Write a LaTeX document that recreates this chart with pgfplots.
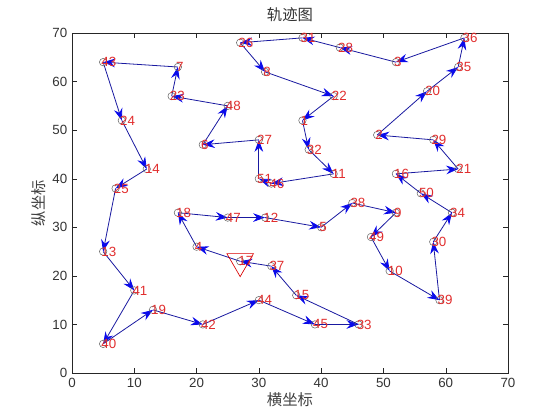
\documentclass[border=0pt]{standalone}
\usepackage{pgfplots}
\pgfplotsset{compat=1.18}
\usepackage{pgfplotstable}
\usepackage{fontspec}
\setmainfont{Liberation Sans}
\newfontfamily\cjk{Noto Sans CJK SC}
\usetikzlibrary{arrows.meta}
\definecolor{lblred}{RGB}{225,45,45}
\definecolor{arrblue}{RGB}{10,10,235}
\definecolor{lineblue}{RGB}{25,25,160}

\pgfplotstableread{
id x y xn yn
43 5 64 8 52
24 8 52 12 42
14 12 42 7 38
25 7 38 5 25
13 5 25 10 17
41 10 17 5 6
40 5 6 13 13
19 13 13 21 10
42 21 10 30 15
44 30 15 39 10
45 39 10 46 10
33 46 10 36 16
15 36 16 32 22
37 32 22 27 23
17 27 23 20 26
4 20 26 17 33
18 17 33 25 32
47 25 32 31 32
12 31 32 40 30
5 40 30 45 35
38 45 35 52 33
9 52 33 48 28
49 48 28 51 21
10 51 21 59 15
39 59 15 58 27
30 58 27 61 33
34 61 33 56 37
50 56 37 52 41
16 52 41 62 42
21 62 42 58 48
29 58 48 49 49
2 49 49 57 58
20 57 58 62 63
35 62 63 63 69
36 63 69 52 64
3 52 64 43 67
28 43 67 37 69
31 37 69 27 68
26 27 68 31 62
8 31 62 42 57
22 42 57 37 52
1 37 52 38 46
32 38 46 42 41
11 42 41 32 39
46 32 39 30 40
51 30 40 30 48
27 30 48 21 47
6 21 47 25 55
48 25 55 16 57
23 16 57 17 63
7 17 63 5 64
}\route

\begin{document}
\begin{tikzpicture}
\useasboundingbox (-54pt,-35.25pt) rectangle (366pt,279.75pt);
\begin{axis}[
  at={(0pt,0pt)}, anchor=south west,
  scale only axis,
  width=327pt, height=255pt,
  xmin=0, xmax=70, ymin=0, ymax=70,
  xtick={0,10,...,70}, ytick={0,10,...,70},
  tick align=inside,
  major tick length=4pt,
  axis line style={black!85},
  tick style={black!85},
  /pgf/number format/assume math mode=true,
  tick label style={font=\fontsize{10}{12}\selectfont, text=black!80},
  title={\cjk 轨迹图},
  title style={font=\fontsize{11.5}{13}\selectfont, text=black!80, yshift=-1pt},
  xlabel={\cjk 横坐标},
  ylabel={\cjk 纵坐标},
  label style={font=\fontsize{11.5}{13}\selectfont, text=black!75},
  xlabel style={yshift=3pt},
  ylabel style={yshift=-2pt},
  clip=false,
]
\addplot[only marks, mark=triangle, mark size=11.5pt, mark options={rotate=180, draw=red!85!black, line width=0.5pt, fill=none}]
  coordinates {(27,23)};
\addplot[lineblue, line width=0.6pt,
  quiver={u=\thisrow{xn}-\thisrow{x}, v=\thisrow{yn}-\thisrow{y},
    every arrow/.append style={-{Stealth[length=9pt,width=6.5pt,inset=3pt,color=arrblue]}}}]
  table[x=x, y=y] {\route};
\addplot[only marks, mark=o, mark size=2.8pt, mark options={draw=black!60, line width=0.4pt},
  point meta=explicit symbolic,
  nodes near coords={\pgfplotspointmeta},
  every node near coord/.style={anchor=west, inner sep=0pt, xshift=-1.5pt, text=lblred, font=\fontsize{10}{12}\selectfont}]
  table[x=x, y=y, meta=id] {\route};
\end{axis}
\end{tikzpicture}
\end{document}
